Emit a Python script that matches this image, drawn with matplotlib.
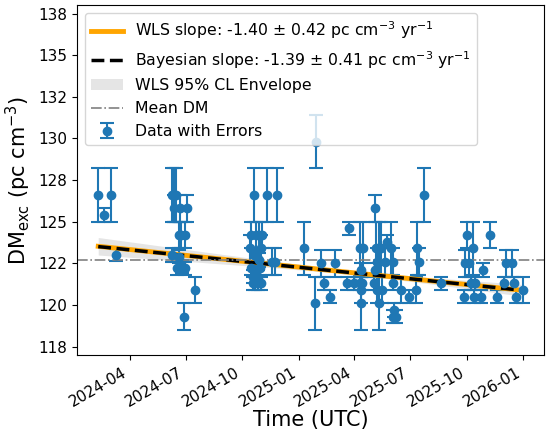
import numpy as np
import pandas as pd
import matplotlib
matplotlib.use("Agg")
import matplotlib.pyplot as plt
import matplotlib.dates as mdates
from matplotlib.ticker import MultipleLocator, FormatStrFormatter

# --- Data ---
dates = [
    "2024-02-10", "2024-02-19", "2024-03-02", "2024-03-10",
    "2024-06-09", "2024-06-13", "2024-06-16", "2024-06-13", "2024-06-22", "2024-07-03",
    "2024-06-20", "2024-06-24", "2024-06-30", "2024-06-09", "2024-06-21", "2024-06-17",
    "2024-06-26", "2024-06-30", "2024-07-17", "2024-06-29",
    "2024-10-20", "2024-11-10", "2024-11-26", "2024-10-16", "2024-10-24", "2024-10-29",
    "2024-11-03", "2024-10-14", "2024-10-31", "2024-10-20", "2024-10-25", "2024-10-28",
    "2024-10-16", "2024-10-23", "2024-10-30", "2024-10-19", "2024-10-26", "2024-10-18",
    "2024-10-22", "2024-10-27", "2024-11-01", "2024-11-19", "2024-11-24",
    "2025-01-10", "2025-01-28", "2025-01-29", "2025-02-06", "2025-02-11", "2025-02-20",
    "2025-03-01", "2025-03-21", "2025-03-23", "2025-03-31", "2025-04-11", "2025-04-15",
    "2025-04-13", "2025-04-10", "2025-04-14", "2025-04-13", "2025-04-13", "2025-05-05",
    "2025-05-07", "2025-05-12", "2025-05-14", "2025-05-08", "2025-05-05", "2025-05-03",
    "2025-05-08", "2025-05-16", "2025-05-12", "2025-05-22", "2025-05-24", "2025-05-31",
    "2025-06-04", "2025-06-04", "2025-06-03", "2025-06-05", "2025-06-08", "2025-06-16",
    "2025-06-29", "2025-07-11", "2025-07-12", "2025-07-16", "2025-07-24", "2025-08-20",
    "2025-09-27", "2025-09-28", "2025-10-01", "2025-10-05", "2025-10-08", "2025-10-11",
    "2025-10-13", "2025-10-14", "2025-10-24", "2025-10-28", "2025-11-08", "2025-11-19",
    "2025-11-30", "2025-12-04", "2025-12-14", "2025-12-17", "2025-12-20", "2025-12-31",
]
dm = [
    126.6, 125.4, 126.6, 123.0,
    126.6, 126.6, 126.6, 125.8, 125.8, 125.8,
    124.2, 124.2, 124.2, 123.0, 122.9, 122.2,
    122.3, 122.2, 120.9, 119.3,
    126.6, 126.6, 126.6, 124.2, 124.2, 124.2,
    124.2, 123.4, 123.4, 123.0, 122.9, 122.7,
    122.2, 122.1, 122.2, 121.7, 121.7, 121.3,
    121.3, 121.3, 121.3, 122.6, 122.6,
    123.4, 120.1, 129.8, 122.5, 121.3, 120.5,
    122.5, 121.3, 124.6, 121.3, 123.4, 123.4,
    122.1, 121.3, 121.3, 120.9, 120.1, 125.8,
    123.4, 123.4, 123.4, 122.6, 122.1, 121.3,
    120.9, 120.9, 120.1, 122.6, 123.8, 123.4,
    122.6, 121.3, 119.3, 119.7, 119.3, 120.9,
    120.5, 120.9, 123.4, 122.6, 126.6, 121.3,
    120.5, 122.5, 124.2, 122.5, 121.3, 123.4,
    120.5, 121.3, 120.5, 122.1, 124.2, 120.5,
    121.3, 122.5, 122.5, 121.3, 120.5, 120.9,
]
dm_err = [
    1.6, 0.4, 1.6, 0.35,
    1.6, 1.6, 1.6, 0.8, 0.8, 0.8,
    0.8, 0.8, 0.8, 0.4, 0.4, 0.4,
    0.4, 0.4, 0.8, 0.8,
    1.6, 1.6, 1.6, 0.8, 0.8, 0.8,
    0.8, 0.8, 0.8, 0.4, 0.4, 0.4,
    0.4, 0.4, 0.4, 0.4, 0.4, 0.4,
    0.4, 0.4, 0.4, 0.8, 0.8,
    1.6, 1.6, 1.6, 0.8, 0.4, 0.4,
    0.8, 0.4, 0.4, 0.4, 1.6, 1.6,
    0.4, 0.4, 0.4, 0.8, 1.6, 0.8,
    1.6, 1.6, 1.6, 0.8, 0.4, 0.4,
    0.8, 0.8, 1.6, 0.8, 0.4, 1.6,
    0.8, 0.4, 0.4, 0.4, 0.4, 0.8,
    0.4, 0.8, 1.6, 0.8, 1.6, 0.4,
    0.4, 0.8, 0.8, 0.8, 0.4, 1.6,
    0.4, 0.4, 0.4, 0.4, 0.8, 0.4,
    0.4, 0.8, 0.8, 0.4, 0.4, 0.8,
]

ref_date = "2025-01-01"
wls_slope, wls_slope_err, wls_ref = -1.40, 0.42, 122.28
bay_slope, bay_slope_err, bay_ref = -1.39, 0.41, 122.27
env_center, env_a, env_b = "2025-04-01", 0.12, 0.45
mean_dm = 122.7

t = pd.to_datetime(dates)
dm = np.array(dm)
dm_err = np.array(dm_err)

# --- Model lines ---
t_line = pd.date_range(t.min(), t.max(), periods=200)
yr = (t_line - pd.Timestamp(ref_date)).days / 365.25
wls_line = wls_ref + wls_slope * yr
bay_line = bay_ref + bay_slope * yr
dt_env = (t_line - pd.Timestamp(env_center)).days / 365.25
half = np.sqrt(env_a**2 + (env_b * dt_env) ** 2)

# --- Plot ---
fig = plt.figure(figsize=(5.48, 4.32), dpi=100)
ax = fig.add_axes([0.1405, 0.178, 0.852, 0.81])

env = ax.fill_between(t_line, wls_line - half, wls_line + half,
                      color="gray", alpha=0.2, lw=0, label="WLS 95% CL Envelope")
eb = ax.errorbar(t, dm, yerr=dm_err, fmt="o", color="tab:blue", ms=6,
                 capsize=5, elinewidth=1.5, capthick=1.5, label="Data with Errors")
l_wls, = ax.plot(t_line, wls_line, color="orange", lw=3.5,
                 label=f"WLS slope: {wls_slope:.2f} ± {wls_slope_err:.2f} pc cm$^{{-3}}$ yr$^{{-1}}$")
l_bay, = ax.plot(t_line, bay_line, color="black", ls="--", lw=2.5,
                 label=f"Bayesian slope: {bay_slope:.2f} ± {bay_slope_err:.2f} pc cm$^{{-3}}$ yr$^{{-1}}$")
l_mean = ax.axhline(mean_dm, color="gray", ls="-.", lw=1.2, label="Mean DM")

ax.set_ylim(117, 138)
ax.yaxis.set_major_locator(MultipleLocator(2.5))
ax.yaxis.set_major_formatter(FormatStrFormatter("%.0f"))
ax.xaxis.set_major_locator(mdates.MonthLocator(bymonth=[1, 4, 7, 10]))
ax.xaxis.set_major_formatter(mdates.DateFormatter("%Y-%m"))
plt.setp(ax.get_xticklabels(), rotation=30, ha="right")
ax.tick_params(labelsize=11)

ax.set_xlabel("Time (UTC)", fontsize=15, labelpad=0)
ax.set_ylabel(r"DM$_{\rm exc}$ (pc cm$^{-3}$)", fontsize=15)

ax.legend(handles=[l_wls, l_bay, env, l_mean, eb], loc="upper left", fontsize=11.3)

fig.savefig("out.png", dpi=100)
